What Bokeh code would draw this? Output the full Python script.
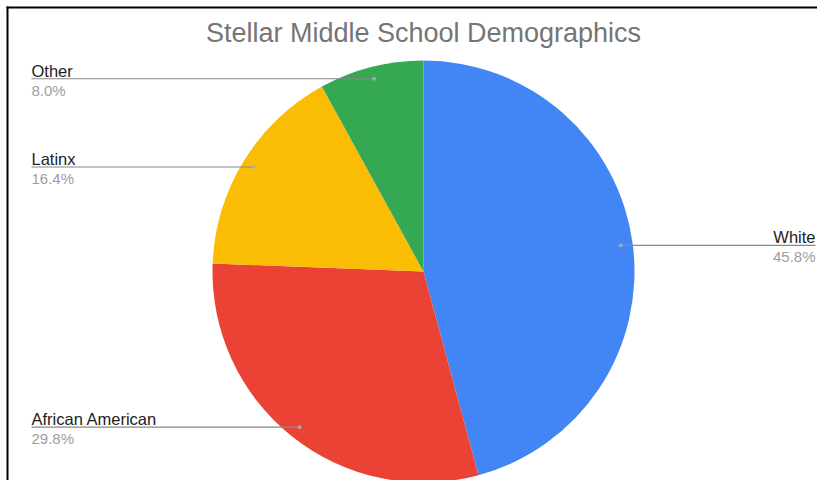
import math
from bokeh.plotting import figure
from bokeh.models import Range1d, ColumnDataSource
from bokeh.core.properties import value
from bokeh.embed import file_html
from bokeh.resources import INLINE

# ---- data ----
categories = ["White", "African American", "Latinx", "Other"]
shares = [45.8, 29.8, 16.4, 8.0]
colors = ["#4285F4", "#EA4335", "#FBBC04", "#34A853"]
title_text = "Stellar Middle School Demographics"

W, H = 817, 480
p = figure(width=W, height=H, x_range=Range1d(0, W), y_range=Range1d(0, H),
           output_backend="svg", toolbar_location=None, min_border=0,
           x_axis_location=None, y_axis_location=None)
p.grid.visible = False
p.outline_line_color = None
p.background_fill_color = "white"
p.border_fill_color = "white"

cx, cy, R = 423, 209, 211
total = sum(shares)
starts, ends, mids = [], [], []
cum = 0.0
for s in shares:
    f0 = cum / total
    cum += s
    f1 = cum / total
    starts.append(math.pi / 2 - 2 * math.pi * f0)
    ends.append(math.pi / 2 - 2 * math.pi * f1)
    mids.append((f0 + f1) / 2)

src = ColumnDataSource(dict(x=[cx] * 4, y=[cy] * 4, s=starts, e=ends, c=colors))
p.wedge(x="x", y="y", radius=R, start_angle="s", end_angle="e", direction="clock",
        fill_color="c", line_color=None, source=src)

# frame border (left and top only visible in the reference)
p.line([7, 7], [0, 474], line_color="black", line_width=2)
p.line([6, W], [473, 473], line_color="black", line_width=2)

# title
p.text(x=[423], y=[448], text=[title_text], text_align="center",
       text_baseline="alphabetic", text_color="#757575",
       text_font=value("Liberation Sans"), text_font_size="27px")

rd = R * 199 / 211
font = value("Liberation Sans")
for cat, sh, m in zip(categories, shares, mids):
    a = 2 * math.pi * m
    dx = cx + rd * math.sin(a)
    dy = cy + rd * math.cos(a)
    if math.sin(a) > 0:
        lx, align = 815, "right"
        p.line([dx, lx], [dy, dy], line_color="#888888", line_width=1.2)
    else:
        lx, align = 31, "left"
        p.line([lx, dx], [dy, dy], line_color="#888888", line_width=1.2)
    p.scatter([dx], [dy], size=4, marker="circle", fill_color="#b0b0b0",
              line_color=None, fill_alpha=0.8)
    p.text(x=[lx], y=[dy + 8], text=[cat], text_align=align,
           text_baseline="alphabetic", text_color="#222222",
           text_font=font, text_font_size="16.5px")
    p.text(x=[lx], y=[dy - 3], text=[f"{sh:.1f}%"], text_align=align,
           text_baseline="top", text_color="#9e9e9e",
           text_font=font, text_font_size="15px")

open("out.html", "w").write(file_html(p, INLINE))
